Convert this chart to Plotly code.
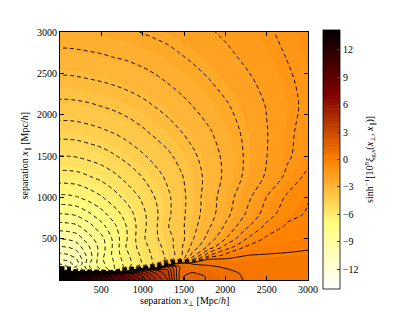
import plotly.graph_objects as go

# grid of separations (Mpc/h)
X_PERP = [0, 100, 200, 350, 500, 650, 800, 1000, 1150, 1300, 1450, 1600, 1800, 2000, 2250, 2500, 2750, 3000]
X_PAR = [0, 40, 80, 120, 160, 200, 250, 300, 400, 500, 650, 800, 1000, 1250, 1500, 1800, 2100, 2400, 2700, 3000]

# asinh(1e8 xi), one row per X_PAR value
ASINH_XI = [
    [14.0, 13.6, 13.0, 11.8, 10.3, 8.8, 7.6, 6.0, 4.8, 3.8, 1.1, 1.6, 1.15, 1.0, 0.7, 0.56, 0.54, 0.54],
    [13.8, 13.3, 12.5, 11.2, 9.6, 8.2, 7.1, 5.8, 4.6, 3.6, 1.1, 1.6, 1.15, 1.0, 0.68, 0.56, 0.54, 0.54],
    [13.0, 11.5, 10.5, 9.5, 8.0, 7.0, 6.2, 5.3, 4.3, 3.5, 1.1, 1.3, 1.1, 0.95, 0.65, 0.55, 0.53, 0.53],
    [0.0, -5.0, -10.4, -9.0, -8.2, -7.4, -3.0, 4.5, 3.8, 3.3, 1.2, 1.1, 1.0, 0.82, 0.58, 0.52, 0.52, 0.53],
    [-11.8, -11.2, -10.2, -8.8, -8.0, -7.29, -6.58, -5.0, -2.0, 2.8, 1.2, 0.95, 0.85, 0.68, 0.5, 0.5, 0.5, 0.52],
    [-11.15, -10.95, -10.5, -8.83, -7.93, -7.25, -6.54, -5.69, -5.15, -2.0, 1.0, 0.7, 0.6, 0.45, 0.42, 0.45, 0.48, 0.5],
    [-10.72, -10.58, -10.28, -9.02, -7.84, -7.21, -6.48, -5.65, -5.12, -4.65, -3.7, -1.83, 0.25, 0.3, 0.33, 0.38, 0.42, 0.45],
    [-10.4, -10.3, -10.04, -8.99, -7.94, -7.11, -6.40, -5.60, -5.08, -4.62, -4.0, -2.56, -0.84, -0.10, 0.24, 0.30, 0.33, 0.36],
    [-9.8, -9.72, -9.52, -8.79, -8.02, -7.14, -6.23, -5.47, -4.98, -4.54, -3.92, -3.12, -2.12, -1.08, -0.2, -0.05, 0.08, 0.18],
    [-9.23, -9.18, -9.03, -8.45, -7.92, -7.13, -6.31, -5.34, -4.86, -4.44, -4.02, -3.31, -2.55, -1.76, -0.77, -0.15, -0.05, 0.02],
    [-8.47, -8.43, -8.35, -7.94, -7.42, -6.88, -6.26, -5.41, -4.85, -4.29, -3.92, -3.44, -2.82, -2.19, -1.37, -0.62, -0.17, -0.10],
    [-7.76, -7.73, -7.64, -7.32, -6.93, -6.49, -6.05, -5.38, -4.87, -4.37, -3.93, -3.51, -2.97, -2.43, -1.72, -1.02, -0.42, -0.20],
    [-6.87, -6.85, -6.79, -6.56, -6.30, -5.96, -5.62, -5.15, -4.74, -4.36, -3.94, -3.54, -3.00, -2.50, -1.92, -1.24, -0.66, -0.28],
    [-5.98, -5.96, -5.93, -5.78, -5.60, -5.37, -5.09, -4.73, -4.45, -4.15, -3.83, -3.52, -3.08, -2.65, -2.15, -1.68, -1.13, -0.60],
    [-5.25, -5.24, -5.21, -5.10, -4.98, -4.80, -4.60, -4.31, -4.08, -3.85, -3.61, -3.36, -2.99, -2.64, -2.19, -1.76, -1.33, -0.95],
    [-4.52, -4.51, -4.49, -4.41, -4.32, -4.20, -4.05, -3.82, -3.63, -3.48, -3.27, -3.07, -2.80, -2.51, -2.14, -1.77, -1.37, -1.03],
    [-3.90, -3.90, -3.88, -3.83, -3.75, -3.66, -3.55, -3.39, -3.24, -3.08, -2.92, -2.76, -2.54, -2.32, -2.02, -1.73, -1.42, -1.11],
    [-3.37, -3.37, -3.35, -3.30, -3.25, -3.18, -3.10, -2.97, -2.86, -2.73, -2.60, -2.46, -2.28, -2.09, -1.86, -1.60, -1.34, -1.09],
    [-2.90, -2.90, -2.88, -2.84, -2.80, -2.74, -2.69, -2.59, -2.50, -2.41, -2.29, -2.18, -2.03, -1.87, -1.66, -1.45, -1.23, -1.01],
    [-2.47, -2.47, -2.46, -2.44, -2.40, -2.35, -2.31, -2.23, -2.16, -2.09, -2.00, -1.92, -1.80, -1.67, -1.50, -1.32, -1.13, -0.96],
]

AXIS_TICKS = [500, 1000, 1500, 2000, 2500, 3000]
CBAR_TICKS = [-12, -9, -6, -3, 0, 3, 6, 9, 12]
Z_LIMIT = 14.1

AFMHOT_R = [
    [0.0, "rgb(255,255,255)"],
    [0.25, "rgb(255,255,128)"],
    [0.5, "rgb(255,128,0)"],
    [0.75, "rgb(128,0,0)"],
    [1.0, "rgb(0,0,0)"],
]

FONT = "Liberation Serif"

fig = go.Figure()

# filled colour map
fig.add_trace(go.Contour(
    x=X_PERP, y=X_PAR, z=ASINH_XI,
    colorscale=AFMHOT_R, zmin=-Z_LIMIT, zmax=Z_LIMIT,
    contours=dict(coloring="fill", start=-14.0, end=14.0, size=0.35, showlines=False),
    line=dict(width=0),
    colorbar=dict(
        x=1.0605, xanchor="left", xpad=0, ypad=0,
        y=0.486, yanchor="middle",
        thickness=17, thicknessmode="pixels",
        len=259, lenmode="pixels",
        tickvals=CBAR_TICKS, ticks="inside", ticklen=3, tickwidth=0.8,
        tickfont=dict(family=FONT, size=10, color="black"),
        outlinewidth=0.8, outlinecolor="black",
    ),
    hoverinfo="skip",
))

# negative contours: dashed
fig.add_trace(go.Contour(
    x=X_PERP, y=X_PAR, z=ASINH_XI,
    contours=dict(coloring="none", start=-13.75, end=-0.25, size=0.5),
    line=dict(color="black", width=0.9, dash="4px,3px"),
    showscale=False, hoverinfo="skip",
))

# positive contours: solid
fig.add_trace(go.Contour(
    x=X_PERP, y=X_PAR, z=ASINH_XI,
    contours=dict(coloring="none", start=0.25, end=13.75, size=0.5),
    line=dict(color="black", width=0.9),
    showscale=False, hoverinfo="skip",
))

axis_common = dict(
    range=[0, 3000], tickvals=AXIS_TICKS, ticks="inside", ticklen=4, tickwidth=0.8,
    tickcolor="black", showline=True, linecolor="black", linewidth=1, mirror="allticks",
    showgrid=False, zeroline=False,
    tickfont=dict(family=FONT, size=10, color="black"),
)

# the page adds an 8px body margin, so the figure is 8px smaller and margins shifted
fig.update_layout(
    width=405, height=304,
    margin=dict(l=52, r=105, t=24, b=32),
    paper_bgcolor="white", plot_bgcolor="white",
    xaxis=dict(**axis_common),
    yaxis=dict(**axis_common),
    showlegend=False,
    font=dict(family=FONT, size=10, color="black"),
    annotations=[
        dict(text="separation <i>x</i><sub>⊥</sub> [Mpc/<i>h</i>]", xref="paper", yref="paper",
             x=0.5, y=-0.085, xanchor="center", yanchor="middle", showarrow=False,
             font=dict(family=FONT, size=10, color="black")),
        dict(text="separation <i>x</i><sub>∥</sub> [Mpc/<i>h</i>]", xref="paper", yref="paper",
             x=-0.14, y=0.5, xanchor="center", yanchor="middle", textangle=-90, showarrow=False,
             font=dict(family=FONT, size=10, color="black")),
        dict(text="sinh<sup>−1</sup>[10<sup>8</sup><i>ξ</i><sub>g,s</sub>(<i>x</i><sub>⊥</sub>, <i>x</i><sub>∥</sub>)]",
             xref="paper", yref="paper",
             x=1.25, y=0.484, xanchor="center", yanchor="middle", textangle=-90, showarrow=False,
             font=dict(family=FONT, size=10, color="black")),
    ],
)

fig.write_html("out.html")
